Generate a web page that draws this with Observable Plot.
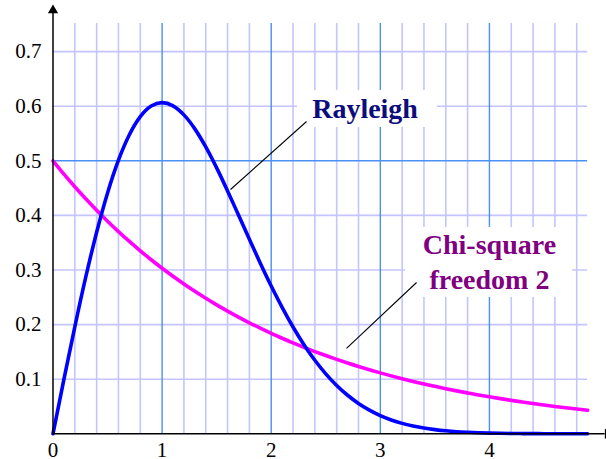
<!DOCTYPE html>
<html>
<head>
<meta charset="utf-8">
<script src="https://cdn.jsdelivr.net/npm/d3@7"></script>
<script src="https://cdn.jsdelivr.net/npm/@observablehq/plot@0.6"></script>
<style>
  html, body { margin: 0; padding: 0; background: #fff; overflow: hidden; }
  #chart svg { display: block; font-family: "Liberation Serif", "Times New Roman", serif; }
  #chart svg text { font-family: "Liberation Serif", "Times New Roman", serif !important; }
</style>
</head>
<body>
<div id="chart"></div>
<script>
// ---- data ----
const xs = [0,0.1,0.2,0.3,0.4,0.5,0.6,0.7,0.8,0.9,1.0,1.1,1.2,1.3,1.4,1.5,1.6,1.7,1.8,1.9,
            2.0,2.1,2.2,2.3,2.4,2.5,2.6,2.7,2.8,2.9,3.0,3.1,3.2,3.3,3.4,3.5,3.6,3.7,3.8,3.9,
            4.0,4.1,4.2,4.3,4.4,4.5,4.6,4.7,4.8,4.9];
const rayleigh = [0,0.0995,0.1960,0.2868,0.3692,0.4412,0.5012,0.5478,0.5809,0.6003,
                  0.6065,0.6007,0.5841,0.5585,0.5254,0.4870,0.4448,0.4007,0.3562,0.3125,
                  0.2707,0.2316,0.1956,0.1633,0.1347,0.1098,0.0885,0.0706,0.0556,0.0433,
                  0.0333,0.0254,0.0191,0.0143,0.0105,0.0077,0.0055,0.0039,0.0028,0.0019,
                  0.0013,0.0009,0.0006,0.0004,0.0003,0.0002,0.0001,0.0001,0.0000,0.0000];
const chiSquare = [0.5,0.4756,0.4524,0.4304,0.4094,0.3894,0.3704,0.3523,0.3352,0.3188,
                   0.3033,0.2885,0.2744,0.2610,0.2483,0.2362,0.2247,0.2137,0.2033,0.1934,
                   0.1839,0.1750,0.1664,0.1583,0.1506,0.1433,0.1363,0.1296,0.1233,0.1173,
                   0.1116,0.1061,0.1009,0.0960,0.0913,0.0869,0.0826,0.0786,0.0748,0.0711,
                   0.0677,0.0644,0.0612,0.0583,0.0554,0.0527,0.0501,0.0477,0.0454,0.0432];
const xTickLabels = [0,1,2,3,4];
const yTickLabels = [0.1,0.2,0.3,0.4,0.5,0.6,0.7];
const xMinorGrid = [0.2,0.4,0.6,0.8,1.2,1.4,1.6,1.8,2.2,2.4,2.6,2.8,3.2,3.4,3.6,3.8,4.2,4.4,4.6,4.8];
const xMajorGrid = [1,2,3,4];
const yMinorGrid = [0.1,0.2,0.3,0.4,0.6,0.7];
const yMajorGrid = [0.5];
const seriesNames = ["Rayleigh", "Chi-square\nfreedom 2"];

// annotations (label anchors in data units)
const labels = [
  {text: seriesNames[0], x: 2.86, y: 0.5793, color: "#0c0c7c",
   box: [2.241, 3.524, 0.561, 0.6288], lead: [1.627, 0.4474, 2.324, 0.572]},
  {text: seriesNames[1], x: 4.0, y: 0.2661, color: "#800080",
   box: [3.231, 4.762, 0.2497, 0.378], lead: [2.690, 0.1566, 3.332, 0.2771]}
];

const table = xs.map((x, i) => ({x, rayleigh: rayleigh[i], chi: chiSquare[i]}));

const xMax = 4.9, yTop = 0.7515;
const minor = "#c4c4ff", major = "#4a90f5";
const font = "Liberation Serif";

const chart = Plot.plot({
  width: 606,
  height: 459,
  x: {domain: [0, 5.073], range: [52.5, 606], axis: null},
  y: {domain: [0, 0.7936], range: [433.3, 0], axis: null},
  marks: [
    // grid
    Plot.ruleX(xMinorGrid, {x: d => d, y1: 0, y2: yTop, stroke: minor, strokeWidth: 1.6}),
    Plot.ruleY(yMinorGrid, {y: d => d, x1: 0, x2: xMax, stroke: minor, strokeWidth: 1.6}),
    Plot.ruleX(xMajorGrid, {x: d => d, y1: 0, y2: yTop, stroke: major, strokeWidth: 1.4}),
    Plot.ruleY(yMajorGrid, {y: d => d, x1: 0, x2: xMax, stroke: major, strokeWidth: 1.4}),
    // label backgrounds
    Plot.rect(labels, {x1: d => d.box[0], x2: d => d.box[1], y1: d => d.box[2], y2: d => d.box[3], fill: "white"}),
    // curves
    Plot.line(table, {x: "x", y: "chi", stroke: "#ff00ff", strokeWidth: 3.6, curve: "monotone-x"}),
    Plot.line(table, {x: "x", y: "rayleigh", stroke: "#0000ff", strokeWidth: 3.6, curve: "monotone-x"}),
    // leader lines
    Plot.link(labels, {x1: d => d.lead[0], y1: d => d.lead[1], x2: d => d.lead[2], y2: d => d.lead[3], stroke: "black", strokeWidth: 1.1}),
    // labels
    Plot.text(labels, {x: "x", y: "y", text: "text", fill: d => d.color, fontSize: 28, fontWeight: "bold",
      textAnchor: "middle", lineAnchor: "bottom", lineHeight: 1.25, fontFamily: font}),
    // axes lines
    Plot.ruleY([0], {x1: 0, x2: 5.06, stroke: "black", strokeWidth: 1.5}),
    Plot.ruleX([0], {y1: 0, y2: 0.77, stroke: "black", strokeWidth: 1.5}),
    Plot.dot([0], {x: 0, y: 0.7755, symbol: "triangle", r: 3.8, fill: "black", stroke: null}),
    Plot.dot([0], {x: 5.085, y: 0, symbol: "triangle", r: 3.8, fill: "black", stroke: null, rotate: 90}),
    // tick labels
    Plot.text(xTickLabels, {x: d => d, y: 0, text: d => String(d), dy: 8, lineAnchor: "top",
      textAnchor: "middle", fontSize: 21, fontFamily: font, fill: "black"}),
    Plot.text(yTickLabels, {x: 0, y: d => d, text: d => d.toFixed(1), dx: -11.5, lineAnchor: "middle",
      textAnchor: "end", fontSize: 21, fontFamily: font, fill: "black"})
  ]
});
document.getElementById("chart").appendChild(chart);
</script>
</body>
</html>
